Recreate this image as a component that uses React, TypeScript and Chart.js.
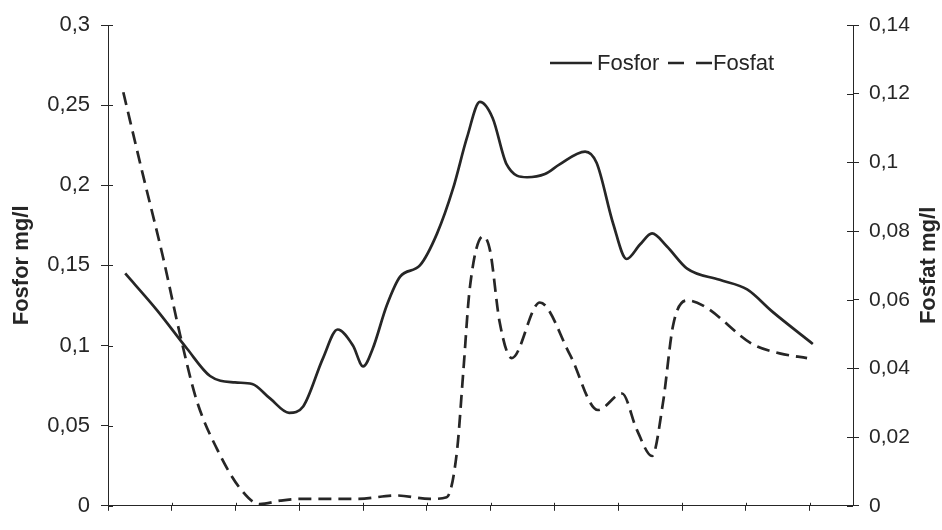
import React, { useEffect, useRef } from "react";
import { Chart, registerables } from "chart.js";

Chart.register(...registerables);

// ---- data (x in tick-interval units, 0 = left axis) ----
const FOSFOR_X = [0.27, 0.77, 1.24, 1.6, 1.99, 2.26, 2.54, 2.84, 3.06, 3.37, 3.6, 3.84, 4.0, 4.15, 4.37, 4.58, 4.89, 5.16, 5.41, 5.63, 5.83, 6.03, 6.25, 6.57, 6.85, 7.08, 7.48, 7.66, 7.92, 8.13, 8.34, 8.53, 8.76, 9.08, 9.59, 10.02, 10.42, 11.05];
const FOSFOR = [0.145, 0.122, 0.098, 0.081, 0.077, 0.076, 0.067, 0.058, 0.062, 0.092, 0.11, 0.1, 0.087, 0.098, 0.125, 0.143, 0.15, 0.17, 0.198, 0.23, 0.252, 0.242, 0.213, 0.205, 0.207, 0.213, 0.221, 0.214, 0.176, 0.154, 0.163, 0.17, 0.162, 0.148, 0.141, 0.135, 0.121, 0.101];

const FOSFAT_X = [0.24, 0.55, 0.86, 1.13, 1.39, 1.71, 2.07, 2.38, 2.7, 3.01, 3.9, 4.53, 5.05, 5.31, 5.47, 5.57, 5.67, 5.88, 5.99, 6.14, 6.33, 6.77, 7.24, 7.68, 8.06, 8.29, 8.53, 8.7, 8.86, 9.08, 9.33, 10.11, 10.53, 10.96];
const FOSFAT = [0.1204, 0.0962, 0.0726, 0.0498, 0.0307, 0.0165, 0.0051, 0.0005, 0.0015, 0.002, 0.002, 0.003, 0.002, 0.0025, 0.0157, 0.039, 0.063, 0.0785, 0.0743, 0.0535, 0.043, 0.0592, 0.0441, 0.0279, 0.0327, 0.0222, 0.0145, 0.0299, 0.0526, 0.0598, 0.0583, 0.047, 0.0444, 0.043];

const SERIES_NAMES = ["Fosfor", "Fosfat"];
const AXIS_TITLES = ["Fosfor mg/l", "Fosfat mg/l"];
const LEFT_TICKS = ["0", "0,05", "0,1", "0,15", "0,2", "0,25", "0,3"];
const RIGHT_TICKS = ["0", "0,02", "0,04", "0,06", "0,08", "0,1", "0,12", "0,14"];
const LEFT_STEP = 0.05;
const RIGHT_STEP = 0.02;
const X_MAX = 11.68;

const INK = "#262626";
const FAMILY = '"Liberation Sans", Arial, Helvetica, sans-serif';
const LEGEND_DASH = [16, 12];

const decorPlugin = {
  id: "decor",
  afterDraw(chart: any) {
    const { ctx, chartArea: ca, scales } = chart;
    ctx.save();
    ctx.strokeStyle = INK;
    ctx.lineWidth = 1;
    // inner halves of the crossing tick marks
    scales.x.ticks.forEach((t: any) => {
      const p = Math.round(scales.x.getPixelForValue(t.value)) + 0.5;
      ctx.beginPath();
      ctx.moveTo(p, ca.bottom - 3);
      ctx.lineTo(p, ca.bottom);
      ctx.stroke();
    });
    scales.y.ticks.forEach((t: any) => {
      const p = Math.round(scales.y.getPixelForValue(t.value)) + 0.5;
      ctx.beginPath();
      ctx.moveTo(ca.left, p);
      ctx.lineTo(ca.left + 5, p);
      ctx.stroke();
    });
    scales.y1.ticks.forEach((t: any) => {
      const p = Math.round(scales.y1.getPixelForValue(t.value)) + 0.5;
      ctx.beginPath();
      ctx.moveTo(ca.right - 6, p);
      ctx.lineTo(ca.right, p);
      ctx.stroke();
    });

    // axis titles (both read bottom-to-top)
    ctx.fillStyle = INK;
    ctx.font = `bold 22px ${FAMILY}`;
    ctx.textAlign = "center";
    ctx.textBaseline = "middle";
    const cy = (ca.top + ca.bottom) / 2;
    ctx.save();
    ctx.translate(22, cy);
    ctx.rotate(-Math.PI / 2);
    ctx.fillText(AXIS_TITLES[0], 0, 0);
    ctx.restore();
    ctx.save();
    ctx.translate(929, cy);
    ctx.rotate(-Math.PI / 2);
    ctx.fillText(AXIS_TITLES[1], 0, 0);
    ctx.restore();

    // legend
    const ly = 63;
    ctx.lineWidth = 2.5;
    ctx.font = `22px ${FAMILY}`;
    ctx.textAlign = "left";
    ctx.beginPath();
    ctx.setLineDash([]);
    ctx.moveTo(550, ly);
    ctx.lineTo(592, ly);
    ctx.stroke();
    ctx.fillText(SERIES_NAMES[0], 597, ly + 1);
    ctx.beginPath();
    ctx.setLineDash(LEGEND_DASH);
    ctx.moveTo(668, ly);
    ctx.lineTo(712, ly);
    ctx.stroke();
    ctx.setLineDash([]);
    ctx.fillText(SERIES_NAMES[1], 713, ly + 1);
    ctx.restore();
  },
};

export default function App() {
  const ref = useRef<HTMLCanvasElement>(null);

  useEffect(() => {
    if (!ref.current) return;
    const toXY = (xs: number[], ys: number[]) => xs.map((x, i) => ({ x, y: ys[i] }));
    const chart = new Chart(ref.current, {
      type: "line",
      data: {
        datasets: [
          {
            label: SERIES_NAMES[0],
            data: toXY(FOSFOR_X, FOSFOR),
            yAxisID: "y",
            borderColor: INK,
            borderWidth: 2.7,
            pointRadius: 0,
            cubicInterpolationMode: "monotone",
            fill: false,
          },
          {
            label: SERIES_NAMES[1],
            data: toXY(FOSFAT_X, FOSFAT),
            yAxisID: "y1",
            borderColor: INK,
            borderWidth: 2.7,
            borderDash: [13, 7],
            pointRadius: 0,
            cubicInterpolationMode: "monotone",
            fill: false,
          },
        ],
      },
      options: {
        animation: false,
        responsive: true,
        maintainAspectRatio: false,
        layout: { padding: { top: 25, left: 0, right: 0, bottom: 0 } },
        plugins: { legend: { display: false }, tooltip: { enabled: false } },
        scales: {
          x: {
            type: "linear",
            min: 0,
            max: X_MAX,
            position: "bottom",
            ticks: { display: false, stepSize: 1, includeBounds: false, maxTicksLimit: 20 },
            grid: { drawOnChartArea: false, drawTicks: true, tickLength: 5, color: INK },
            border: { display: true, color: INK, width: 1 },
            afterFit: (s: any) => {
              s.height = 13;
            },
          },
          y: {
            position: "left",
            min: 0,
            max: 0.3,
            ticks: {
              stepSize: LEFT_STEP,
              callback: (v: any) => LEFT_TICKS[Math.round(Number(v) / LEFT_STEP)],
              font: { family: FAMILY, size: 22 },
              color: INK,
              padding: 11,
            },
            grid: { drawOnChartArea: false, drawTicks: true, tickLength: 7, color: INK },
            border: { display: true, color: INK, width: 1 },
            afterFit: (s: any) => {
              s.width = 108;
            },
          },
          y1: {
            position: "right",
            min: 0,
            max: 0.14,
            ticks: {
              stepSize: RIGHT_STEP,
              callback: (v: any) => RIGHT_TICKS[Math.round(Number(v) / RIGHT_STEP)],
              font: { family: FAMILY, size: 21 },
              color: INK,
              padding: 10,
            },
            grid: { drawOnChartArea: false, drawTicks: true, tickLength: 6, color: INK },
            border: { display: true, color: INK, width: 1 },
            afterFit: (s: any) => {
              s.width = 89;
            },
          },
        },
      },
      plugins: [decorPlugin],
    } as any);
    return () => chart.destroy();
  }, []);

  return (
    <div style={{ position: "fixed", left: 0, top: 0, width: 942, height: 530, background: "#fff" }}>
      <canvas ref={ref} />
    </div>
  );
}
